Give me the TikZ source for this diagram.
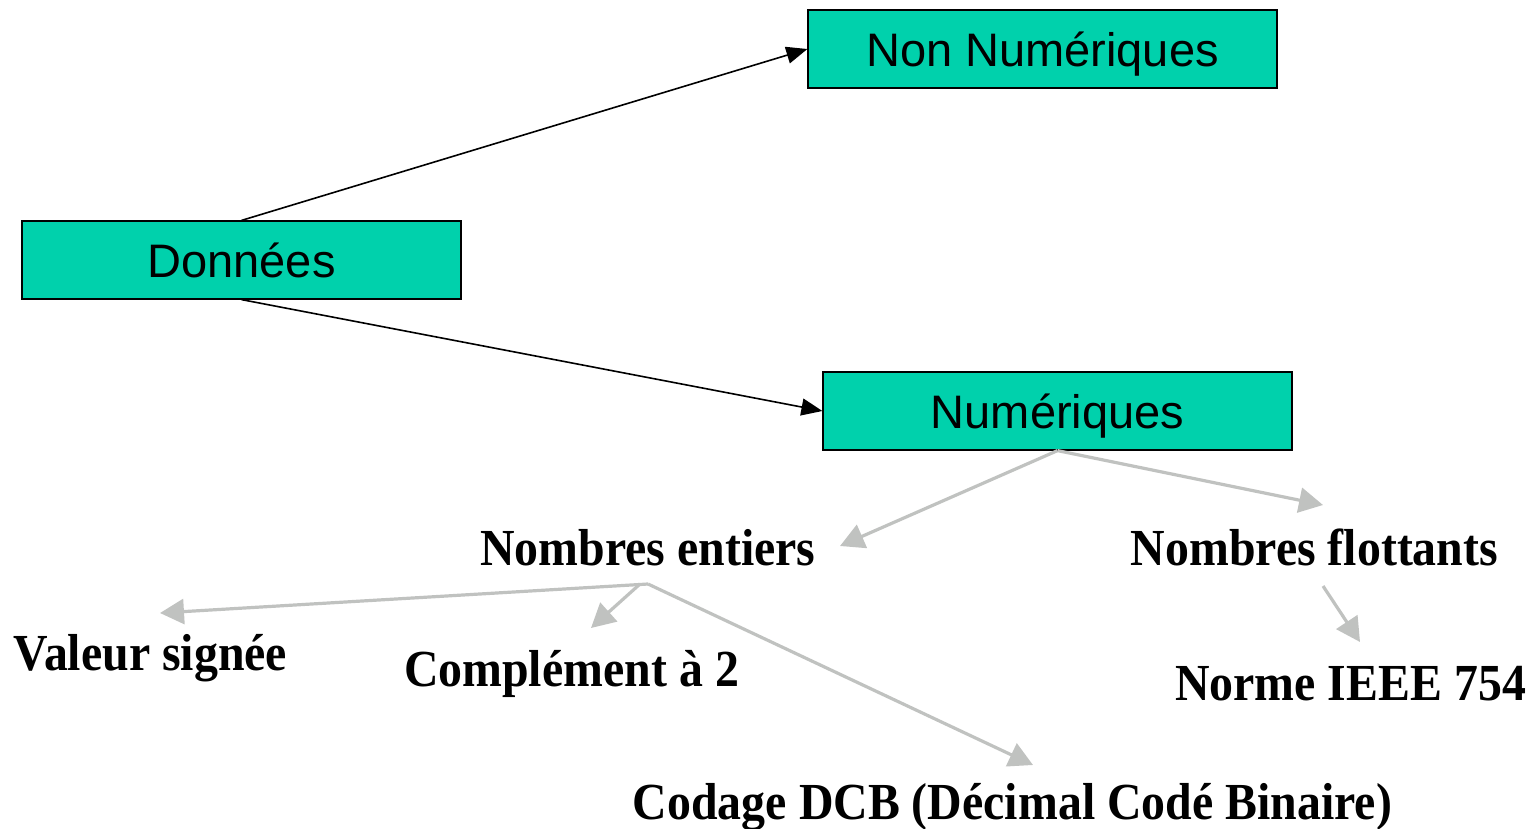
\documentclass[tikz,border=0pt]{standalone}
\usepackage{fontspec}
\setmainfont{Liberation Serif}
\newfontfamily\arialf{Liberation Sans}
\newfontfamily\boldlbl[FakeStretch=0.92]{Liberation Serif Bold}
\usetikzlibrary{arrows.meta}
\definecolor{boxfill}{RGB}{0,209,172}
\definecolor{arrgray}{RGB}{192,194,192}
\tikzset{
  box/.style={draw=black, line width=1.2pt, fill=boxfill, minimum width=469pt, minimum height=78pt, inner sep=0pt,
    font=\arialf\fontsize{47}{56}\selectfont, text height=34pt, text depth=0pt},
  lbl/.style={anchor=base, inner sep=0pt, font=\boldlbl\fontsize{52}{60}\selectfont},
  blk/.style={draw=black, line width=1.6pt, -{Triangle[length=21pt,width=17pt]}},
  gry/.style={draw=arrgray, line width=3.2pt, -{Triangle[length=24pt,width=25pt]}},
}
\begin{document}
\begin{tikzpicture}[x=1pt,y=-1pt]
\useasboundingbox (0,0) rectangle (1533,828);
\node[box] (non) at (1042.5,49) {Non Numériques};
\node[box, minimum width=439pt] (don) at (241.5,260) {Données};
\node[box] (num) at (1057.5,411) {Numériques};

\node[lbl] (ent) at (648,565) {Nombres entiers};
\node[lbl] (flo) at (1314.5,565) {Nombres flottants};
\node[lbl] (val) at (150.5,670) {Valeur signée};
\node[lbl] (cmp) at (571.5,686) {Complément à 2};
\node[lbl] (iee) at (1350.5,700) {Norme IEEE 754};
\node[lbl] (dcb) at (1012.5,819) {Codage DCB (Décimal Codé Binaire)};

\coordinate (tEnt) at (840,546);
\coordinate (tFlo) at (1323,505);
\coordinate (jA) at (640,584);
\coordinate (jB) at (648,584);
\coordinate (tVal) at (160,613);
\coordinate (tCmp) at (591,628);
\coordinate (tDcb) at (1033,765);
\coordinate (sIee) at (1323,586);
\coordinate (tIee) at (1360,642);

\draw[blk] (don.north) -- (non.west);
\draw[blk] (don.south) -- (num.west);

\draw[gry] (num.south) -- (tEnt);
\draw[gry] (num.south) -- (tFlo);
\draw[gry] (jB) -- (tVal);
\draw[gry] (jA) -- (tCmp);
\draw[gry] (jB) -- (tDcb);
\draw[gry] (sIee) -- (tIee);
\end{tikzpicture}
\end{document}
